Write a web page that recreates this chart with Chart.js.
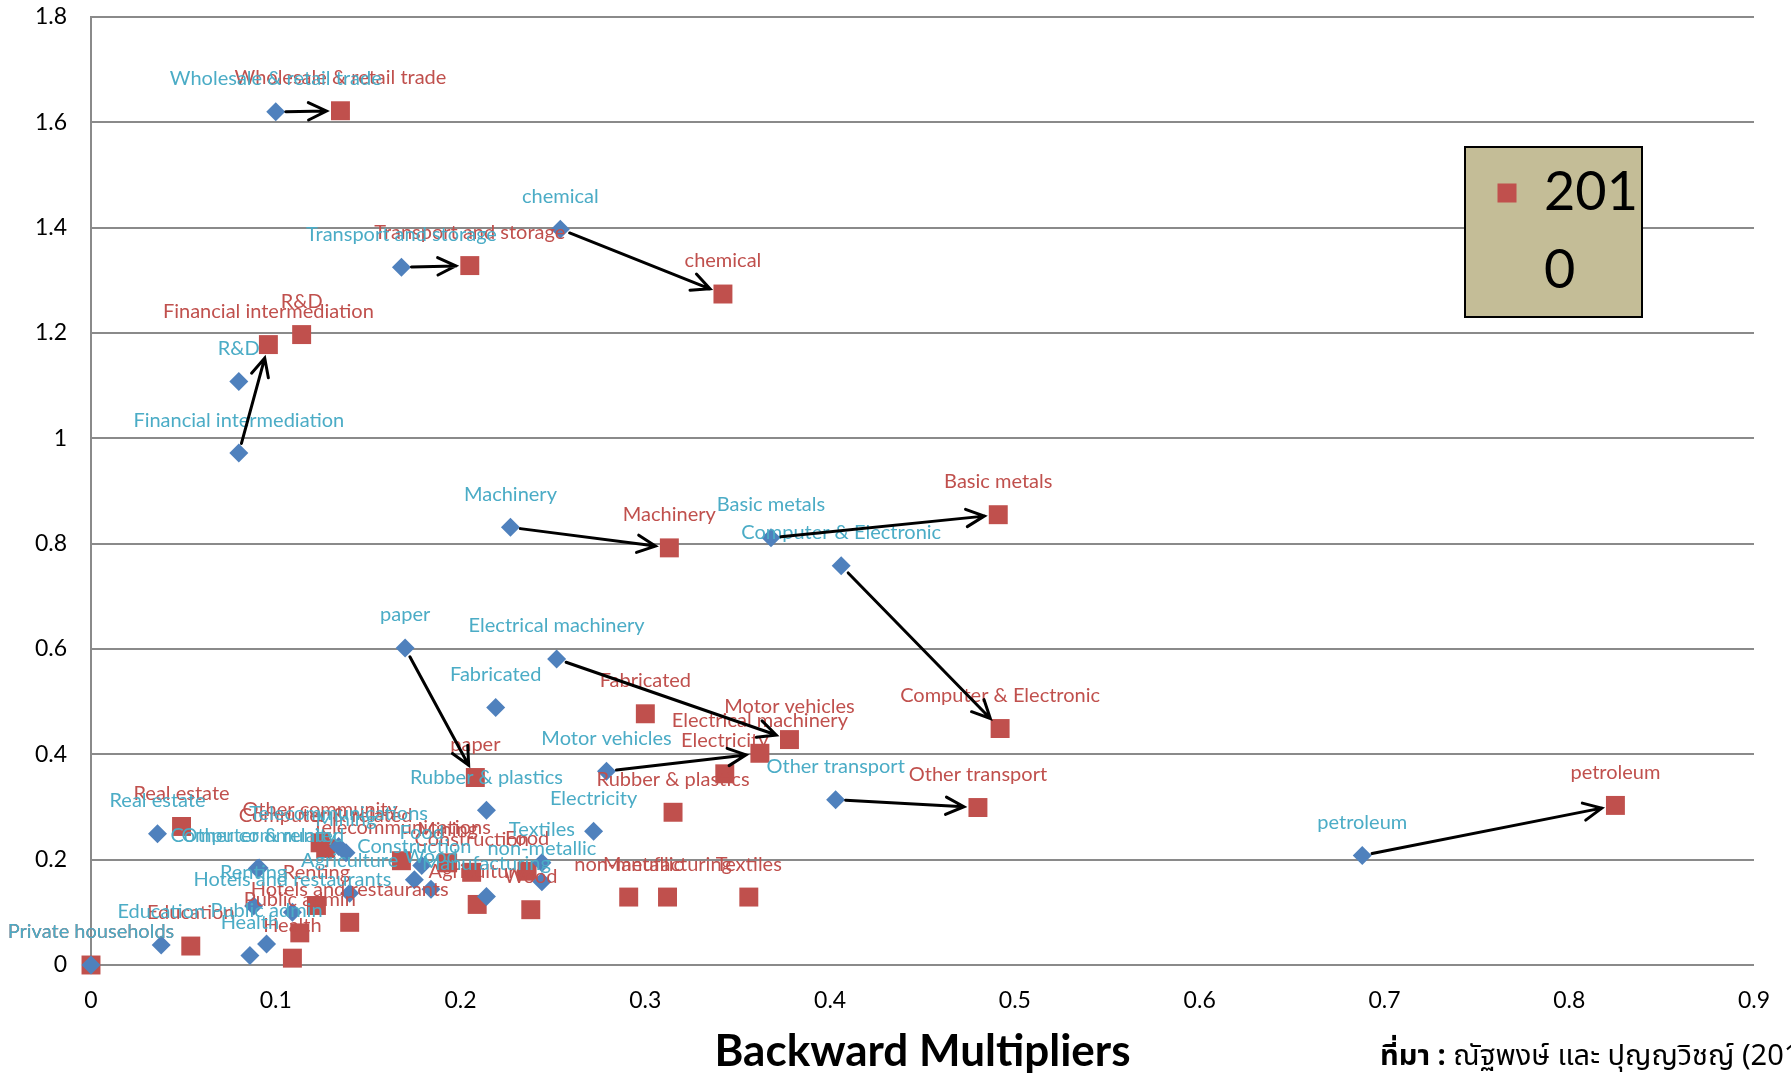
<!DOCTYPE html>
<html>
<head>
<meta charset="utf-8">
<title>Backward Multipliers</title>
<script src="https://cdn.jsdelivr.net/npm/chart.js@4.4.1/dist/chart.umd.min.js"></script>
<style>
    html, body { margin: 0; padding: 0; background: #fff; }
    #wrap { width: 1791px; height: 1076px; }
</style>
</head>
<body>
<div id="wrap"><canvas id="multChart" width="1791" height="1076"></canvas></div>
<script>
(function () {
    'use strict';

    // Sector names, shared by both years
    var sectors = [
        'Wholesale & retail trade', 'Transport and storage', 'chemical', 'R&D',
        'Financial intermediation', 'Machinery', 'Basic metals', 'Computer & Electronic',
        'paper', 'Electrical machinery', 'Fabricated', 'Motor vehicles',
        'Rubber & plastics', 'Electricity', 'Other transport', 'petroleum',
        'Real estate', 'Other community', 'Computer & related', 'Telecommunications',
        'Mining', 'Construction', 'Food', 'Textiles',
        'non-metallic', 'Agriculture', 'Wood', 'Manufacturing',
        'Renting', 'Hotels and restaurants', 'Education', 'Public admin',
        'Health', 'Private households'
    ];

    // Earlier year (blue diamonds)
    var backward2005 = [0.100, 0.168, 0.254, 0.080, 0.080, 0.227, 0.368, 0.406,
                        0.170, 0.252, 0.219, 0.279, 0.214, 0.272, 0.403, 0.688,
                        0.036, 0.091, 0.090, 0.134, 0.138, 0.175, 0.179, 0.244,
                        0.244, 0.140, 0.184, 0.214, 0.088, 0.109, 0.038, 0.095,
                        0.086, 0];
    var forward2005  = [1.620, 1.325, 1.397, 1.108, 0.972, 0.831, 0.811, 0.758,
                        0.602, 0.581, 0.489, 0.368, 0.294, 0.254, 0.314, 0.208,
                        0.249, 0.184, 0.183, 0.225, 0.213, 0.162, 0.189, 0.194,
                        0.158, 0.136, 0.144, 0.130, 0.112, 0.100, 0.038, 0.040,
                        0.018, 0];

    // 2010 (red squares)
    var backward2010 = [0.135, 0.205, 0.342, 0.114, 0.096, 0.313, 0.491, 0.492,
                        0.208, 0.362, 0.300, 0.378, 0.315, 0.343, 0.480, 0.825,
                        0.049, 0.124, 0.127, 0.168, 0.193, 0.206, 0.236, 0.356,
                        0.291, 0.209, 0.238, 0.312, 0.122, 0.140, 0.054, 0.113,
                        0.109, 0];
    var forward2010  = [1.622, 1.328, 1.274, 1.197, 1.178, 0.792, 0.855, 0.449,
                        0.356, 0.402, 0.477, 0.428, 0.290, 0.363, 0.299, 0.303,
                        0.263, 0.232, 0.221, 0.198, 0.194, 0.176, 0.178, 0.129,
                        0.129, 0.115, 0.105, 0.129, 0.113, 0.081, 0.036, 0.061,
                        0.013, 0];

    // Axis ticks
    var xTicks      = [0, 0.1, 0.2, 0.3, 0.4, 0.5, 0.6, 0.7, 0.8, 0.9];
    var xTickLabels = ['0', '0.1', '0.2', '0.3', '0.4', '0.5', '0.6', '0.7', '0.8', '0.9'];
    var yTicks      = [0, 0.2, 0.4, 0.6, 0.8, 1, 1.2, 1.4, 1.6, 1.8];
    var yTickLabels = ['0', '0.2', '0.4', '0.6', '0.8', '1', '1.2', '1.4', '1.6', '1.8'];

    // Movement arrows: [sector in earlier year, sector in 2010]
    var arrowPairs = [
        ['Wholesale & retail trade', 'Wholesale & retail trade'],
        ['Transport and storage', 'Transport and storage'],
        ['chemical', 'chemical'],
        ['Financial intermediation', 'Financial intermediation'],
        ['Machinery', 'Machinery'],
        ['Basic metals', 'Basic metals'],
        ['Computer & Electronic', 'Computer & Electronic'],
        ['paper', 'paper'],
        ['Electrical machinery', 'Motor vehicles'],
        ['Motor vehicles', 'Electrical machinery'],
        ['Other transport', 'Other transport'],
        ['petroleum', 'petroleum']
    ];

    var sourceBold = 'ที่มา :';
    var sourceText = ' ณัฐพงษ์ และ ปุญญวิชญ์ (201';

    var FONT = 'Lato, "Noto Sans", sans-serif';
    var THAI_FONT = '"Noto Sans Thai", "Noto Sans", "DejaVu Sans", sans-serif';

    function toPoints(xs, ys) {
        return xs.map(function (x, i) { return { x: x, y: ys[i] }; });
    }

    // Sector name above each marker
    var pointLabels = {
        id: 'pointLabels',
        afterDatasetsDraw: function (chart, args, opts) {
            var ctx = chart.ctx;
            ctx.save();
            ctx.font = opts.size + 'px ' + FONT;
            ctx.textAlign = 'center';
            ctx.textBaseline = 'middle';
            chart.data.datasets.forEach(function (ds, di) {
                var meta = chart.getDatasetMeta(di);
                ctx.fillStyle = ds.labelColor;
                meta.data.forEach(function (pt, i) {
                    ctx.fillText(sectors[i], pt.x, pt.y - opts.offset);
                });
            });
            ctx.restore();
        }
    };

    // Arrows from the earlier marker to the 2010 marker
    var moveArrows = {
        id: 'moveArrows',
        afterDatasetsDraw: function (chart, args, opts) {
            var ctx = chart.ctx;
            var metaNew = chart.getDatasetMeta(0);
            var metaOld = chart.getDatasetMeta(1);
            ctx.save();
            ctx.strokeStyle = '#000';
            ctx.lineWidth = opts.width;
            ctx.lineCap = 'round';
            arrowPairs.forEach(function (pair) {
                var a = metaOld.data[sectors.indexOf(pair[0])];
                var b = metaNew.data[sectors.indexOf(pair[1])];
                var dx = b.x - a.x, dy = b.y - a.y;
                var len = Math.sqrt(dx * dx + dy * dy);
                var ux = dx / len, uy = dy / len;
                var sx = a.x + ux * opts.startGap, sy = a.y + uy * opts.startGap;
                var ex = b.x - ux * opts.endGap,   ey = b.y - uy * opts.endGap;
                var ang = Math.atan2(ey - sy, ex - sx);
                ctx.beginPath();
                ctx.moveTo(sx, sy);
                ctx.lineTo(ex, ey);
                ctx.moveTo(ex - opts.head * Math.cos(ang - 0.45), ey - opts.head * Math.sin(ang - 0.45));
                ctx.lineTo(ex, ey);
                ctx.lineTo(ex - opts.head * Math.cos(ang + 0.45), ey - opts.head * Math.sin(ang + 0.45));
                ctx.stroke();
            });
            ctx.restore();
        }
    };

    // Boxed legend showing the first series, text wrapped to the box width
    var boxLegend = {
        id: 'boxLegend',
        afterDraw: function (chart, args, opts) {
            var ctx = chart.ctx;
            var ds = chart.data.datasets[0];
            ctx.save();
            ctx.fillStyle = '#C4BD97';
            ctx.fillRect(opts.left, opts.top, opts.width, opts.height);
            ctx.strokeStyle = '#000';
            ctx.lineWidth = 2;
            ctx.strokeRect(opts.left, opts.top, opts.width, opts.height);

            ctx.fillStyle = ds.backgroundColor;
            ctx.fillRect(opts.markerX - 9.5, opts.firstLine - 9.5, 19, 19);

            ctx.font = opts.size + 'px ' + FONT;
            ctx.fillStyle = '#000';
            ctx.textAlign = 'left';
            ctx.textBaseline = 'middle';
            var maxW = opts.left + opts.width - opts.textX;
            var lines = [], cur = '';
            ds.label.split('').forEach(function (ch) {
                if (cur && ctx.measureText(cur + ch).width > maxW) {
                    lines.push(cur);
                    cur = ch;
                } else {
                    cur += ch;
                }
            });
            if (cur) lines.push(cur);
            lines.forEach(function (ln, i) {
                ctx.fillText(ln, opts.textX, opts.firstLine + i * opts.lineStep);
            });
            ctx.restore();
        }
    };

    // Source note, bottom right (runs off the edge)
    var sourceNote = {
        id: 'sourceNote',
        afterDraw: function (chart, args, opts) {
            var ctx = chart.ctx;
            ctx.save();
            ctx.fillStyle = '#000';
            ctx.textBaseline = 'alphabetic';
            ctx.textAlign = 'left';
            ctx.font = 'bold ' + opts.size + 'px ' + THAI_FONT;
            ctx.fillText(sourceBold, opts.x, opts.y);
            var w = ctx.measureText(sourceBold).width;
            ctx.font = opts.size + 'px ' + THAI_FONT;
            ctx.fillText(sourceText, opts.x + w, opts.y);
            ctx.restore();
        }
    };

    var config = {
        type: 'scatter',
        data: {
            datasets: [{
                label: '2010',
                data: toPoints(backward2010, forward2010),
                pointStyle: 'rect',
                pointRadius: 13.4,
                pointHoverRadius: 13.4,
                backgroundColor: '#C0504D',
                borderColor: '#C0504D',
                borderWidth: 0,
                labelColor: '#C0504D',
                order: 1,
                clip: false
            }, {
                label: '2005',
                data: toPoints(backward2005, forward2005),
                pointStyle: 'rectRot',
                pointRadius: 9.5,
                pointHoverRadius: 9.5,
                backgroundColor: '#4F81BD',
                borderColor: '#4F81BD',
                borderWidth: 0,
                labelColor: '#4BACC6',
                order: 0,
                clip: false
            }]
        },
        options: {
            responsive: false,
            animation: false,
            events: [],
            layout: { padding: { top: 17, right: 37, bottom: 0, left: 0 } },
            scales: {
                x: {
                    type: 'linear',
                    min: 0,
                    max: 0.9,
                    afterBuildTicks: function (s) {
                        s.ticks = xTicks.map(function (v) { return { value: v }; });
                    },
                    afterFit: function (s) {
                        s.height = 111;
                        s.paddingLeft = 0;
                        s.paddingRight = 0;
                    },
                    grid: { display: false, drawTicks: false },
                    border: { display: false },
                    ticks: {
                        padding: 22,
                        color: '#000',
                        font: { family: FONT, size: 23 },
                        maxRotation: 0,
                        callback: function (v, i) { return xTickLabels[i]; }
                    },
                    title: {
                        display: true,
                        text: 'Backward Multipliers',
                        color: '#000',
                        font: { family: FONT, size: 44, weight: 'bold', lineHeight: 1 },
                        padding: { top: 0, bottom: 2 }
                    }
                },
                y: {
                    type: 'linear',
                    min: 0,
                    max: 1.8,
                    afterBuildTicks: function (s) {
                        s.ticks = yTicks.map(function (v) { return { value: v }; });
                    },
                    afterFit: function (s) {
                        s.width = 91;
                        s.paddingTop = 0;
                        s.paddingBottom = 0;
                    },
                    grid: { color: '#8A8A8A', lineWidth: 2, drawTicks: false },
                    border: { display: true, color: '#8A8A8A', width: 2 },
                    ticks: {
                        padding: 24,
                        color: '#000',
                        font: { family: FONT, size: 23 },
                        callback: function (v, i) { return yTickLabels[i]; }
                    }
                }
            },
            plugins: {
                legend: { display: false },
                tooltip: { enabled: false },
                pointLabels: { size: 20, offset: 33 },
                moveArrows: { startGap: 10, endGap: 14, head: 20, width: 3 },
                boxLegend: {
                    left: 1465, top: 147, width: 177, height: 170,
                    markerX: 1507, textX: 1544, firstLine: 193, lineStep: 78, size: 54
                },
                sourceNote: { x: 1380, y: 1065, size: 29 }
            }
        },
        plugins: [pointLabels, moveArrows, boxLegend, sourceNote]
    };

    new Chart(document.getElementById('multChart'), config);
}());
</script>
</body>
</html>
